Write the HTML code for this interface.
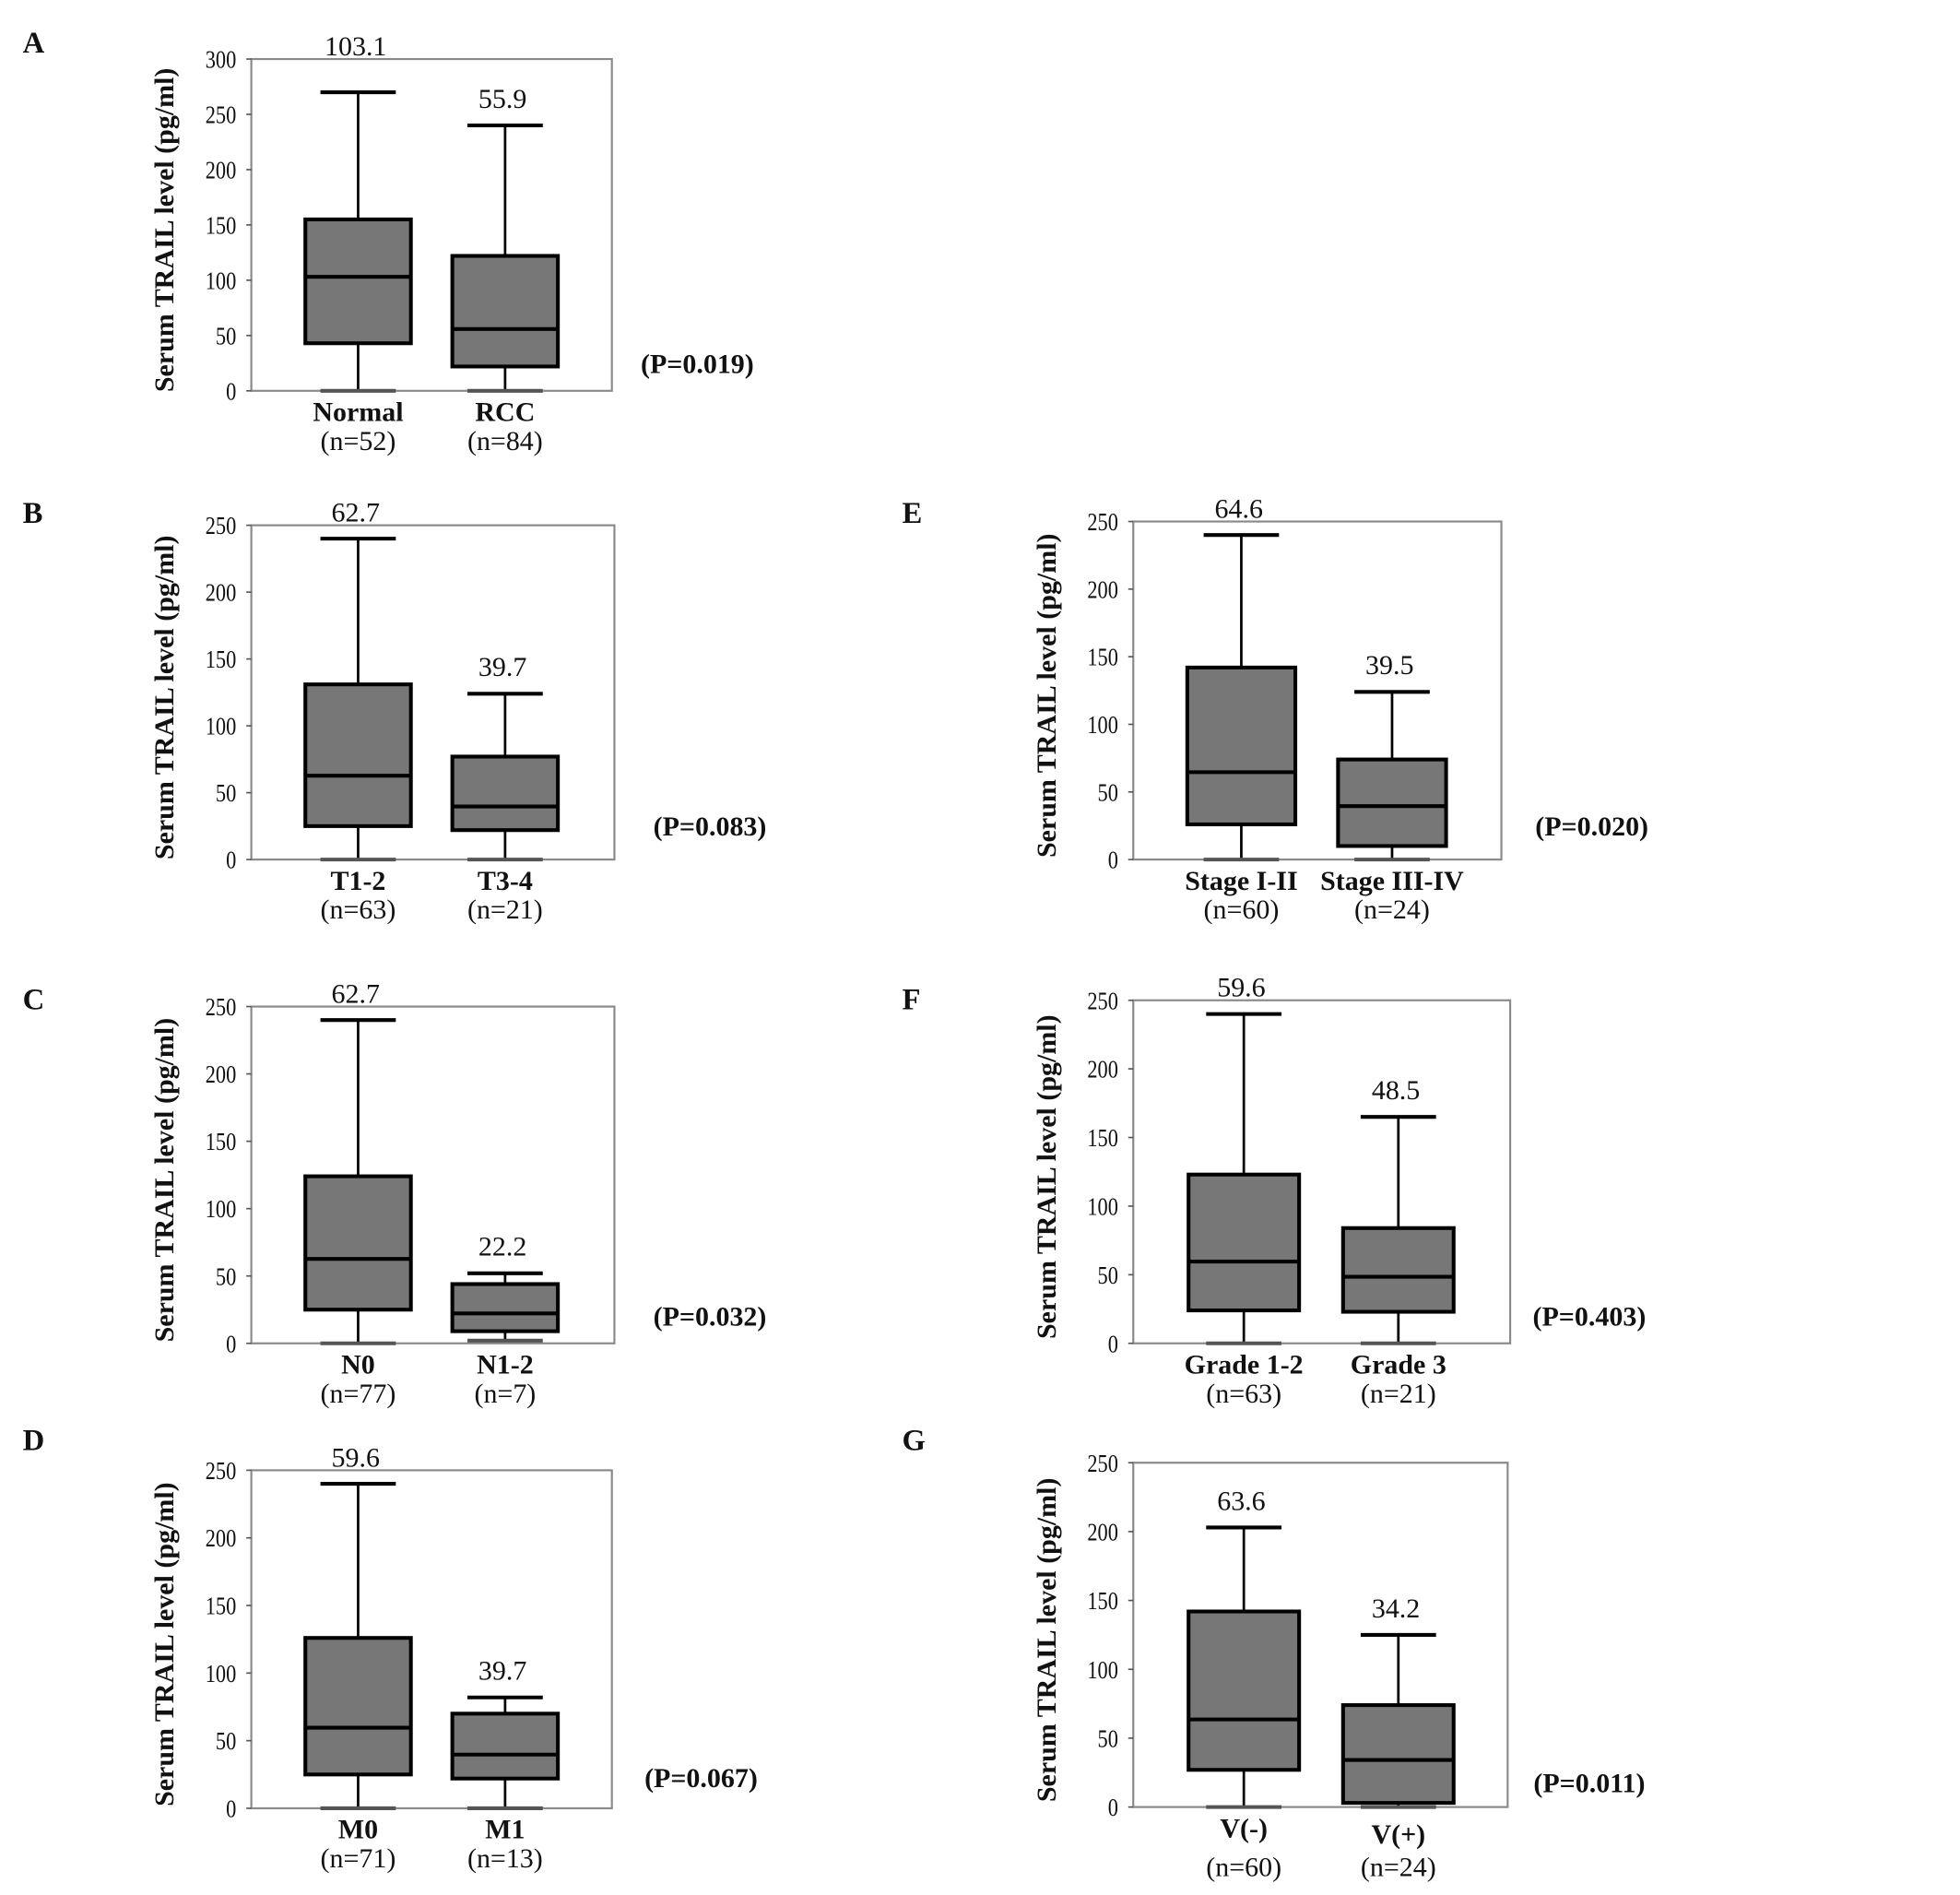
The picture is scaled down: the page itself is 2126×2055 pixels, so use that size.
<!DOCTYPE html>
<html><head><meta charset="utf-8"><style>
html,body{margin:0;padding:0;background:#fff;}
svg{display:block;}
text{font-family:"Liberation Serif",serif;fill:#111;}
</style></head><body>
<svg id="fig" width="2126" height="2055" viewBox="0 0 1560 1508" xmlns="http://www.w3.org/2000/svg"></svg>
<script>
// ---- data ----
const panelLetters = ["A","B","C","D","E","F","G"];
const categories = [["Normal","RCC"],["T1-2","T3-4"],["N0","N1-2"],["M0","M1"],["Stage I-II","Stage III-IV"],["Grade 1-2","Grade 3"],["V(-)","V(+)"]];
const sampleSizes = [["(n=52)","(n=84)"],["(n=63)","(n=21)"],["(n=77)","(n=7)"],["(n=71)","(n=13)"],["(n=60)","(n=24)"],["(n=63)","(n=21)"],["(n=60)","(n=24)"]];
const whiskerHigh = [[270,240],[240,124],[240,52],[240,82],[240,124],[240,165],[203,125]];
const q3Values = [[155,122],[131,77],[124,44],[126,70],[142,74],[123,84],[142,74]];
const medianValues = [[103.1,55.9],[62.7,39.7],[62.7,22.2],[59.6,39.7],[64.6,39.5],[59.6,48.5],[63.6,34.2]];
const q1Values = [[43,22],[25,22],[25,9],[25,22],[26,10],[24,23],[27,3]];
const whiskerLow = [[0,0],[0,0],[0,2],[0,0],[0,0],[0,0],[0,0]];
const medianLabels = [["103.1","55.9"],["62.7","39.7"],["62.7","22.2"],["59.6","39.7"],["64.6","39.5"],["59.6","48.5"],["63.6","34.2"]];
const yMaxValues = [300,250,250,250,250,250,250];
const pLabels = ["(P=0.019)","(P=0.083)","(P=0.032)","(P=0.067)","(P=0.020)","(P=0.403)","(P=0.011)"];

// ---- layout (pixels, not data) ----
const frames = [
 {x0:200,x1:487,yt:47,yb:311,cx:[285,402],bw:42,lx:18,ly:42,px:555,py:297},
 {x0:200,x1:489,yt:418,yb:684,cx:[285,402],bw:42,lx:18,ly:416,px:565,py:665},
 {x0:200,x1:489,yt:801,yb:1069,cx:[285,402],bw:42,lx:18,ly:803,px:565,py:1055},
 {x0:200,x1:487,yt:1170,yb:1439,cx:[285,402],bw:42,lx:18,ly:1154,px:558,py:1422},
 {x0:902,x1:1195,yt:415,yb:684,cx:[988,1108],bw:43,lx:718,ly:416,px:1267,py:665},
 {x0:902,x1:1202,yt:796,yb:1069,cx:[990,1113],bw:44,lx:718,ly:803,px:1265,py:1055},
 {x0:902,x1:1200,yt:1164,yb:1438,cx:[990,1113],bw:44,lx:718,ly:1154,px:1265,py:1426}
];
const NS="http://www.w3.org/2000/svg";
const svg=document.getElementById('fig');
function mk(tag,attrs,parent){const e=document.createElementNS(NS,tag);for(const k in attrs)e.setAttribute(k,attrs[k]);(parent||svg).appendChild(e);return e;}

frames.forEach((f,i)=>{
  const g=mk('g',{});
  
  
  const yScale=v=>f.yb-(v/yMaxValues[i])*(f.yb-f.yt);
  const lt=mk('text',{x:f.lx,y:f.ly,'font-size':24,'font-weight':'bold'},g);lt.textContent=panelLetters[i];
  
  
  const fr=mk('rect',{x:f.x0,y:f.yt,width:f.x1-f.x0,height:f.yb-f.yt,fill:'none',stroke:'#8a8a8a','stroke-width':1.6},g);
  
  
  for(let v=0;v<=yMaxValues[i];v+=50){
    const y=yScale(v);
    mk('line',{x1:f.x0-4,x2:f.x0,y1:y,y2:y,stroke:'#555','stroke-width':1.2},g);
    const t=mk('text',{x:f.x0-12,y:y+7,'font-size':20,'text-anchor':'end',transform:`translate(${f.x0-12},0) scale(0.82,1) translate(${-(f.x0-12)},0)`},g);
    t.textContent=v;
    
    
  }
  const tx=f.x0-62, ty=(f.yt+f.yb)/2+4;
  const yt=mk('text',{x:0,y:0,'font-size':22,'font-weight':'bold','text-anchor':'middle',transform:`translate(${tx},${ty}) rotate(-90)`},g);
  yt.textContent='Serum  TRAIL level (pg/ml)';
  
  
  for(let j=0;j<2;j++){
    const cx=f.cx[j], bw=f.bw;
    const bg=mk('g',{},g);
    
    
    const yH=yScale(whiskerHigh[i][j]),yQ3=yScale(q3Values[i][j]),yM=yScale(medianValues[i][j]),yQ1=yScale(q1Values[i][j]),yL=yScale(whiskerLow[i][j]);
    mk('line',{x1:cx,x2:cx,y1:yH,y2:yL,stroke:'#000','stroke-width':2},bg);
    mk('line',{x1:cx-30,x2:cx+30,y1:yH,y2:yH,stroke:'#000','stroke-width':3},bg);
    mk('line',{x1:cx-30,x2:cx+30,y1:yL,y2:yL,stroke:'#555','stroke-width':3},bg);
    mk('rect',{x:cx-bw,y:yQ3,width:2*bw,height:yQ1-yQ3,fill:'#777',stroke:'#000','stroke-width':3},bg);
    mk('line',{x1:cx-bw,x2:cx+bw,y1:yM,y2:yM,stroke:'#000','stroke-width':3},bg);
    const labelY=(yH-f.yt<30)?f.yt-3:yH-14;
    const ml=mk('text',{x:cx-2,y:labelY,'font-size':22,'text-anchor':'middle'},g);
    ml.textContent=medianLabels[i][j];
    
    
    const cy=f.yb+24+(i===6&&j===1?5:0);
    const cl=mk('text',{x:cx,y:cy,'font-size':22,'font-weight':'bold','text-anchor':'middle'},g);
    cl.textContent=categories[i][j];
    
    
    const nl=mk('text',{x:cx,y:f.yb+47+(i===6?8:0),'font-size':22,'text-anchor':'middle'},g);
    nl.textContent=sampleSizes[i][j];
    
    
  }
  const pl=mk('text',{x:f.px,y:f.py,'font-size':22,'font-weight':'bold','text-anchor':'middle'},g);
  pl.textContent=pLabels[i];
  
  
});
</script>
</body></html>
